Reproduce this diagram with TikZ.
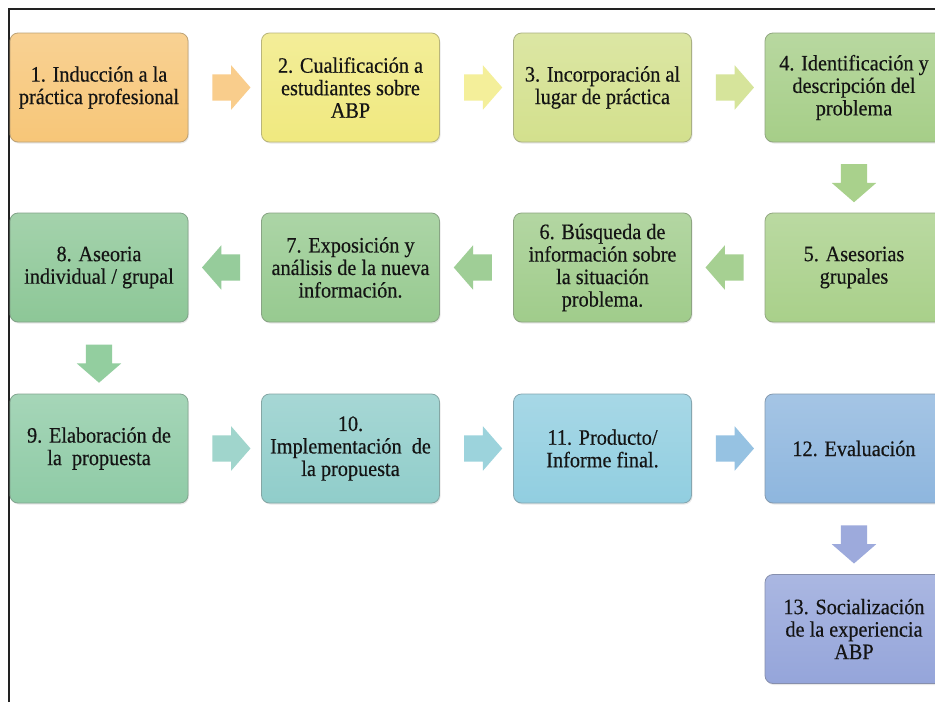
\documentclass[tikz,border=0pt]{standalone}
\usepackage{fontspec}
\setmainfont{Liberation Serif}
\newfontfamily\tnr[FakeStretch=0.92,FakeBold=0.4]{Liberation Serif}
\usetikzlibrary{shapes.arrows,shadows,calc}
\definecolor{c1}{HTML}{F7C678}
\definecolor{c2}{HTML}{F0E97F}
\definecolor{c3}{HTML}{D3E08D}
\definecolor{c4}{HTML}{A6CE88}
\definecolor{c5}{HTML}{A9D08A}
\definecolor{c6}{HTML}{A0CC8B}
\definecolor{c7}{HTML}{97CA90}
\definecolor{c8}{HTML}{8DC797}
\definecolor{c9}{HTML}{8FCBA6}
\definecolor{c10}{HTML}{90CDCA}
\definecolor{c11}{HTML}{91CEE0}
\definecolor{c12}{HTML}{8EB6DE}
\definecolor{c13}{HTML}{95A5DA}
\definecolor{a1}{HTML}{F9CD8C}
\definecolor{a2}{HTML}{F4EF9A}
\definecolor{a3}{HTML}{D6E49B}
\definecolor{a4}{HTML}{A9D18C}
\definecolor{a5}{HTML}{A6D092}
\definecolor{a6}{HTML}{9FCE96}
\definecolor{a7}{HTML}{96CC9B}
\definecolor{a8}{HTML}{93CE9F}
\definecolor{a9}{HTML}{A0D5CC}
\definecolor{a10}{HTML}{9CD3DC}
\definecolor{a11}{HTML}{96C2E2}
\definecolor{a12}{HTML}{9DAADC}
\definecolor{txt}{HTML}{141414}
\definecolor{frame}{HTML}{222222}
\tikzset{
  box/.style={rectangle, rounded corners=8pt, minimum width=178pt, minimum height=109pt,
    inner sep=4pt, align=center, text=txt, line width=0.8pt,
    top color=#1!80!white, bottom color=#1, draw=#1!70!black!80,
    drop shadow={shadow xshift=1pt, shadow yshift=-1.5pt, opacity=0.18},
    font=\tnr\fontsize{22}{22.5}\selectfont},
  blockarrow/.style={single arrow, draw=none, fill=#1, inner sep=13pt,
    minimum height=38pt, minimum width=44pt, single arrow head extend=9pt,
    single arrow tip angle=98},
}
\begin{document}
\begin{tikzpicture}[x=1pt,y=-1pt]
\useasboundingbox (0,0) rectangle (935,702);
\clip (0,0) rectangle (935,702);
\fill[white] (0,0) rectangle (935,702);
\draw[frame, line width=2pt] (9,702) -- (9,9) -- (936,9);

\node[box=c1] (b1) at (99,87.5) {1. Inducción a la\\práctica profesional};
\node[box=c2] (b2) at (350.5,87.5) {2. Cualificación a\\estudiantes sobre\\ABP};
\node[box=c3] (b3) at (602.5,87.5) {3. Incorporación al\\lugar de práctica};
\node[box=c4] (b4) at (854,87.5) {4. Identificación y\\descripción del\\problema};

\node[box=c5] (b5) at (854,267.5) {5. Asesorias\\grupales};
\node[box=c6] (b6) at (602.5,267.5) {6. Búsqueda de\\información sobre\\la situación\\problema.};
\node[box=c7] (b7) at (350.5,267.5) {7. Exposición y\\análisis de la nueva\\información.};
\node[box=c8] (b8) at (99,267.5) {8. Aseoria\\individual / grupal};

\node[box=c9] (b9) at (99,448.5) {9. Elaboración de\\la~~propuesta};
\node[box=c10] (b10) at (350.5,448.5) {10.\\Implementación~~de\\la propuesta};
\node[box=c11] (b11) at (602.5,448.5) {11. Producto/\\Informe final.};
\node[box=c12] (b12) at (854,448.5) {12. Evaluación};

\node[box=c13] (b13) at (854,629) {13. Socialización\\de la experiencia\\ABP};

\node[blockarrow=a1] (r12) at ($(b1.east)!0.5!(b2.west)+(1,0)$) {};
\node[blockarrow=a2] (r23) at ($(b2.east)!0.5!(b3.west)+(1,0)$) {};
\node[blockarrow=a3] (r34) at ($(b3.east)!0.5!(b4.west)+(1,0)$) {};
\node[blockarrow=a4, shape border rotate=270] (r45) at ($(b4.south)!0.5!(b5.north)$) {};
\node[blockarrow=a5, shape border rotate=180] (r56) at ($(b5.west)!0.5!(b6.east)+(2,0)$) {};
\node[blockarrow=a6, shape border rotate=180] (r67) at ($(b6.west)!0.5!(b7.east)+(2,0)$) {};
\node[blockarrow=a7, shape border rotate=180] (r78) at ($(b7.west)!0.5!(b8.east)+(2,0)$) {};
\node[blockarrow=a8, shape border rotate=270] (r89) at ($(b8.south)!0.5!(b9.north)$) {};
\node[blockarrow=a9] (r910) at ($(b9.east)!0.5!(b10.west)+(1,0)$) {};
\node[blockarrow=a10] (r1011) at ($(b10.east)!0.5!(b11.west)+(1,0)$) {};
\node[blockarrow=a11] (r1112) at ($(b11.east)!0.5!(b12.west)+(1,0)$) {};
\node[blockarrow=a12, shape border rotate=270] (r1213) at ($(b12.south)!0.5!(b13.north)$) {};
\end{tikzpicture}
\end{document}
